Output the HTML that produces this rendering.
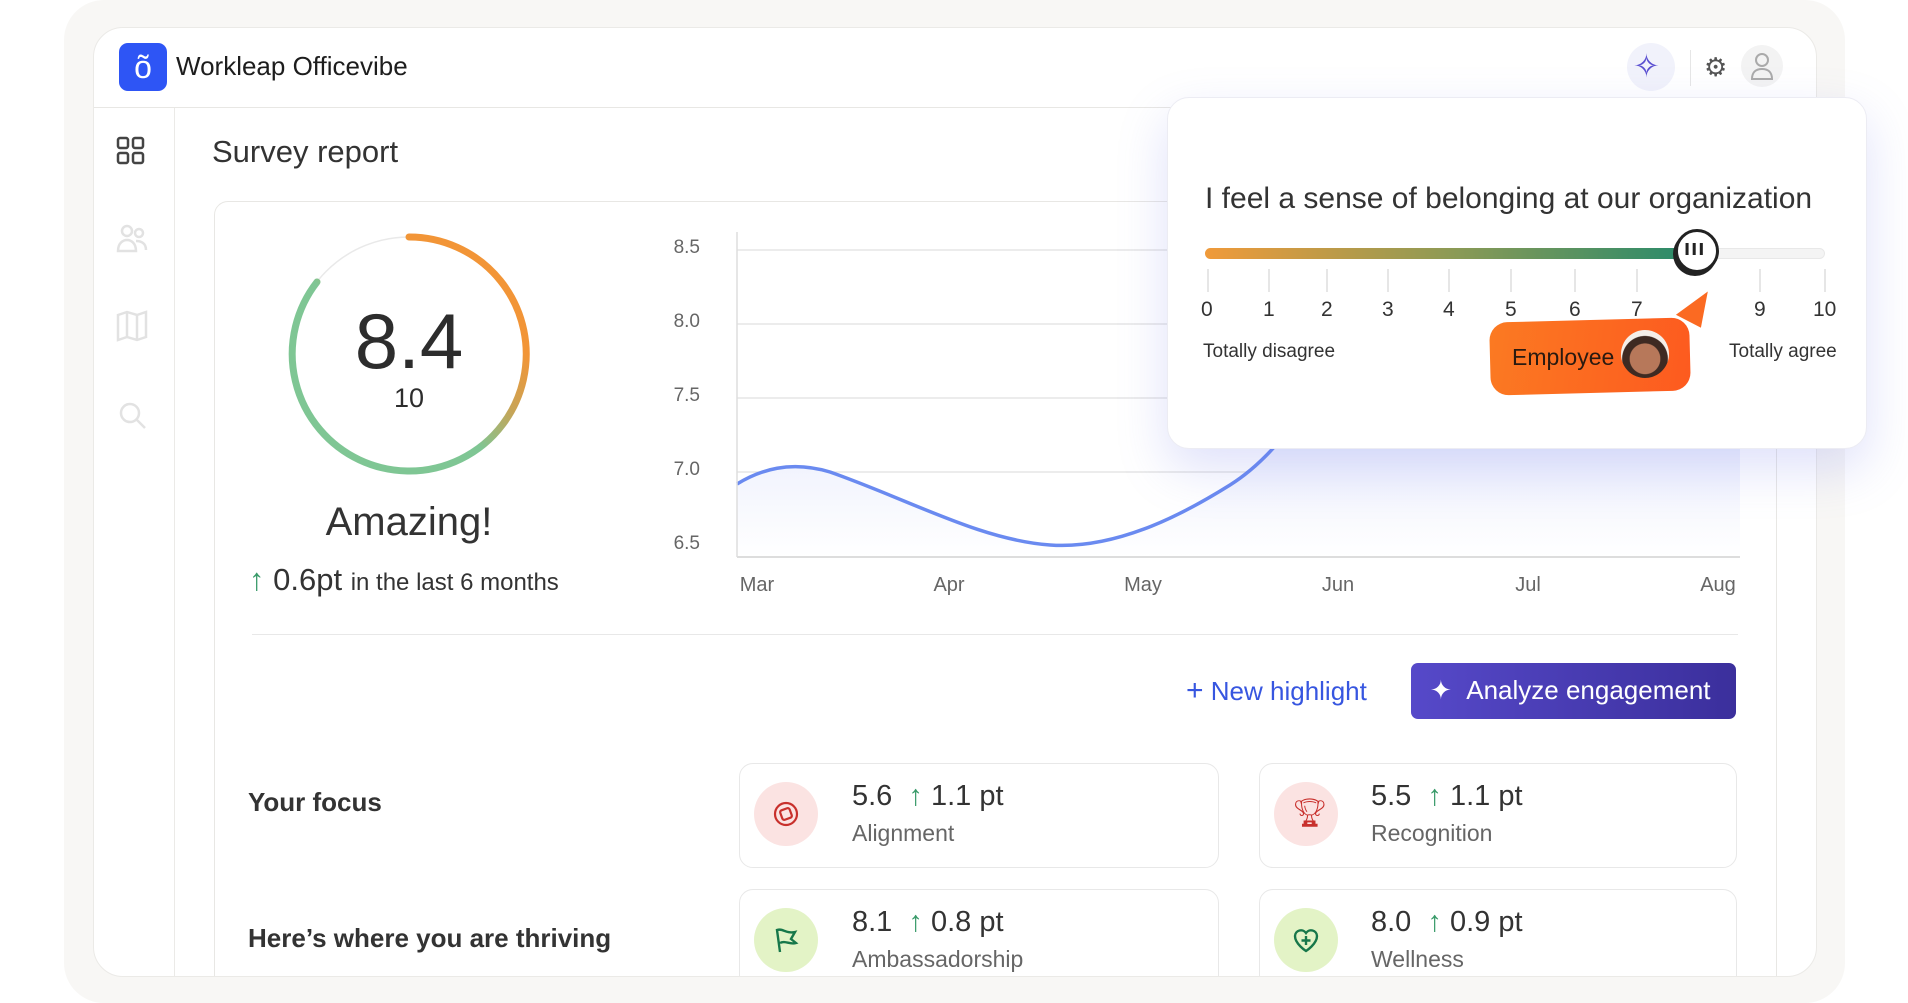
<!DOCTYPE html>
<html><head><meta charset="utf-8"><style>
*{margin:0;padding:0;box-sizing:border-box}
body{width:1908px;height:1003px;background:#fff;font-family:"Liberation Sans",sans-serif;position:relative;overflow:hidden;color:#2b2b2b}
.a{position:absolute}
.t{position:absolute;white-space:nowrap}
</style></head><body>
<div class="a" style="left:64px;top:0;width:1781px;height:1003px;background:#f8f7f5;border-radius:40px"></div>
<div class="a" style="left:93px;top:27px;width:1724px;height:950px;background:#fff;border:1px solid #ebeae7;border-radius:30px;overflow:hidden">
  <div class="a" style="left:0;top:79px;width:100%;height:1px;background:#e8e7e4"></div>
  <div class="a" style="left:80px;top:80px;width:1px;height:900px;background:#ebeae7"></div>
  <!-- main card -->
  <div class="a" style="left:120px;top:173px;width:1563px;height:800px;border:1px solid #e8e7e4;border-radius:14px"></div>
  <!-- cards -->
  <div class="a" style="left:645px;top:735px;width:480px;height:105px;border:1.5px solid #e8e8e8;border-radius:14px"></div>
  <div class="a" style="left:1165px;top:735px;width:478px;height:105px;border:1.5px solid #e8e8e8;border-radius:14px"></div>
  <div class="a" style="left:645px;top:861px;width:480px;height:140px;border:1.5px solid #e8e8e8;border-radius:14px"></div>
  <div class="a" style="left:1165px;top:861px;width:478px;height:140px;border:1.5px solid #e8e8e8;border-radius:14px"></div>
</div>
<!-- logo -->
<div class="a" style="left:119px;top:43px;width:48px;height:48px;background:#2e55f5;border-radius:9px"></div>
<div class="t" style="left:130px;top:43px;width:26px;font-size:32px;color:#fff;text-align:center;line-height:48px">õ</div>
<div class="t" style="left:176px;top:51px;font-size:26px;color:#1d1d1d">Workleap Officevibe</div>
<!-- sidebar icons -->
<svg class="a" style="left:116px;top:136px" width="30" height="30" viewBox="0 0 30 30" fill="none" stroke="#444" stroke-width="2.5"><rect x="2" y="2" width="10" height="10" rx="2"/><rect x="17" y="2" width="10" height="10" rx="2"/><rect x="2" y="17" width="10" height="10" rx="2"/><rect x="17" y="17" width="10" height="10" rx="2"/></svg>
<svg class="a" style="left:116px;top:223px" width="32" height="30" fill="none" stroke="#e2e2e2" stroke-width="2.5"><circle cx="11" cy="8" r="5"/><circle cx="23" cy="10" r="4"/><path d="M2 28c0-8 5-11 9-11s9 3 9 11zM20 18c5 0 10 2 10 9"/></svg>
<svg class="a" style="left:116px;top:310px" width="32" height="32" fill="none" stroke="#e2e2e2" stroke-width="2.5"><path d="M2 5l9-3 10 3 9-3v25l-9 3-10-3-9 3zM11 2v25M21 5v25"/></svg>
<svg class="a" style="left:118px;top:401px" width="30" height="30" fill="none" stroke="#e2e2e2" stroke-width="2.5"><circle cx="12" cy="12" r="9"/><path d="M19 19l8 8"/></svg>
<!-- top right icons -->
<div class="a" style="left:1627px;top:43px;width:48px;height:48px;border-radius:50%;background:#f1f2fb"></div>
<div class="t" style="left:1633px;top:47px;font-size:32px;color:#5a4fd1">✧</div>
<div class="a" style="left:1690px;top:50px;width:1px;height:36px;background:#e6e6e6"></div>
<div class="t" style="left:1704px;top:52px;font-size:26px;color:#555">⚙</div>
<div class="a" style="left:1741px;top:45px;width:42px;height:42px;border-radius:50%;background:#f3f3f3"></div>
<svg class="a" style="left:1750px;top:52px" width="24" height="28" fill="none" stroke="#aaa" stroke-width="2"><circle cx="12" cy="8" r="6"/><path d="M2 27c0-7 4-10 10-10s10 3 10 10z"/></svg>
<div class="t" style="left:212px;top:134px;font-size:31px;color:#333">Survey report</div>
<!-- gauge -->
<svg class="a" style="left:281px;top:226px" width="256" height="256">
<defs><linearGradient id="g1" x1="0" y1="1" x2="1" y2="0"><stop offset="0" stop-color="#7fc694"/><stop offset="0.45" stop-color="#7fc694"/><stop offset="0.6" stop-color="#c8a456"/><stop offset="0.75" stop-color="#f29537"/><stop offset="1" stop-color="#f29537"/></linearGradient></defs>
<circle cx="128" cy="128" r="117" fill="none" stroke="#e9e9e9" stroke-width="1.5"/>
<path d="M128 11 A117 117 0 1 1 36 56" fill="none" stroke="url(#g1)" stroke-width="7" stroke-linecap="round"/>
</svg>
<div class="t" style="left:309px;top:296px;width:200px;text-align:center;font-size:78px;color:#2d2d2d;line-height:90px">8.4</div>
<div class="t" style="left:309px;top:383px;width:200px;text-align:center;font-size:27px;color:#2d2d2d">10</div>
<div class="t" style="left:259px;top:500px;width:300px;text-align:center;font-size:40px;color:#333">Amazing!</div>
<div class="t" style="left:249px;top:562px;font-size:31px;color:#333"><span style="color:#3a9b6a">↑</span> 0.6pt <span style="font-size:24px">in the last 6 months</span></div>
<!-- chart -->
<svg class="a" style="left:650px;top:220px" width="1100" height="400">
<defs><linearGradient id="fl" x1="0" y1="0" x2="0" y2="1"><stop offset="0" stop-color="#dfe4fb"/><stop offset="1" stop-color="#fff"/></linearGradient></defs>
<g stroke="#e5e5e5" stroke-width="1.5"><line x1="87" y1="30" x2="1090" y2="30"/><line x1="87" y1="104" x2="1090" y2="104"/><line x1="87" y1="178" x2="1090" y2="178"/><line x1="87" y1="252" x2="1090" y2="252"/><line x1="87" y1="326" x2="1090" y2="326"/></g>
<path d="M87 264 C110 250 140 240 180 252 C260 280 330 320 400 325 C470 330 540 290 580 265 C620 240 650 200 700 120 L1090 120 L1090 337 L87 337Z" fill="url(#fl)"/>
<path d="M87 264 C110 250 140 240 180 252 C260 280 330 320 400 325 C470 330 540 290 580 265 C620 240 650 200 700 120" fill="none" stroke="#6a8af0" stroke-width="3.5"/>
<line x1="87" y1="12" x2="87" y2="337" stroke="#ddd" stroke-width="1.5"/>
<line x1="87" y1="337" x2="1090" y2="337" stroke="#ddd" stroke-width="2"/>
<g font-family="Liberation Sans" font-size="19" fill="#666" text-anchor="end"><text x="50" y="33">8.5</text><text x="50" y="107">8.0</text><text x="50" y="181">7.5</text><text x="50" y="255">7.0</text><text x="50" y="329">6.5</text></g>
<g font-family="Liberation Sans" font-size="20" fill="#666" text-anchor="middle"><text x="107" y="371">Mar</text><text x="299" y="371">Apr</text><text x="493" y="371">May</text><text x="688" y="371">Jun</text><text x="878" y="371">Jul</text><text x="1068" y="371">Aug</text></g>
</svg>
<div class="a" style="left:252px;top:634px;width:1486px;height:1px;background:#e8e8e8"></div>
<div class="t" style="left:1186px;top:674px;font-size:26px;color:#3756e0"><span style="font-size:30px">+</span> New highlight</div>
<div class="a" style="left:1411px;top:663px;width:325px;height:56px;border-radius:7px;background:linear-gradient(90deg,#5649c9,#3b2f9c)"></div>
<div class="t" style="left:1430px;top:675px;font-size:26px;color:#fff">✦ &nbsp;Analyze engagement</div>
<div class="t" style="left:248px;top:787px;font-size:26px;font-weight:bold;color:#333">Your focus</div>
<div class="t" style="left:248px;top:923px;font-size:26px;font-weight:bold;color:#333">Here’s where you are thriving</div>
<div class="a" style="left:754px;top:782px;width:64px;height:64px;border-radius:50%;background:#fbe3e2"></div>
<div class="a" style="left:1274px;top:782px;width:64px;height:64px;border-radius:50%;background:#fbe3e2"></div>
<div class="a" style="left:754px;top:908px;width:64px;height:64px;border-radius:50%;background:#e3f3c6"></div>
<div class="a" style="left:1274px;top:908px;width:64px;height:64px;border-radius:50%;background:#e3f3c6"></div>
<svg class="a" style="left:772px;top:800px" width="28" height="28" fill="none" stroke="#c8302c" stroke-width="2.2"><circle cx="14" cy="14" r="11"/><rect x="9" y="9" width="10" height="10" rx="2" transform="rotate(-20 14 14)"/></svg>
<div class="t" style="left:1292px;top:796px;font-size:28px;color:#c8302c">🏆︎</div>
<svg class="a" style="left:774px;top:926px" width="28" height="28" fill="none" stroke="#17774a" stroke-width="2.4"><path d="M6 26L3 4c6-2 9 4 18 2l-4 7 5 4c-6 2-11-3-16 0"/></svg>
<svg class="a" style="left:1292px;top:926px" width="28" height="28" fill="none" stroke="#17774a" stroke-width="2.4"><path d="M14 25S3 18 3 10a6 6 0 0 1 11-3 6 6 0 0 1 11 3c0 8-11 15-11 15zM14 10v9M9.5 14.5h9"/></svg>
<div class="t" style="left:852px;top:780px;font-size:29px;color:#333">5.6 &nbsp;<span style="color:#3a9b6a">↑</span> 1.1 pt</div>
<div class="t" style="left:852px;top:820px;font-size:23px;color:#666">Alignment</div>
<div class="t" style="left:1371px;top:780px;font-size:29px;color:#333">5.5 &nbsp;<span style="color:#3a9b6a">↑</span> 1.1 pt</div>
<div class="t" style="left:1371px;top:820px;font-size:23px;color:#666">Recognition</div>
<div class="t" style="left:852px;top:906px;font-size:29px;color:#333">8.1 &nbsp;<span style="color:#3a9b6a">↑</span> 0.8 pt</div>
<div class="t" style="left:852px;top:946px;font-size:23px;color:#666">Ambassadorship</div>
<div class="t" style="left:1371px;top:906px;font-size:29px;color:#333">8.0 &nbsp;<span style="color:#3a9b6a">↑</span> 0.9 pt</div>
<div class="t" style="left:1371px;top:946px;font-size:23px;color:#666">Wellness</div>
<!-- popup -->
<div class="a" style="left:1167px;top:97px;width:700px;height:352px;background:#fff;border:1px solid #ececf3;border-radius:22px;box-shadow:0 20px 50px rgba(110,120,230,0.22)"></div>
<div class="t" style="left:1205px;top:182px;font-size:30px;color:#333">I feel a sense of belonging at our organization</div>
<div class="a" style="left:1205px;top:248px;width:620px;height:11px;border-radius:6px;background:#f4f4f4;border:1px solid #e8e8e8"></div>
<div class="a" style="left:1205px;top:248px;width:495px;height:11px;border-radius:6px;background:linear-gradient(90deg,#f09a3a,#8c9a55,#248a6c)"></div>
<svg class="a" style="left:1195px;top:267px" width="650" height="30" stroke="#ddd" stroke-width="1.5"><line x1="13" y1="2" x2="13" y2="25"/><line x1="74" y1="2" x2="74" y2="25"/><line x1="132" y1="2" x2="132" y2="25"/><line x1="193" y1="2" x2="193" y2="25"/><line x1="254" y1="2" x2="254" y2="25"/><line x1="316" y1="2" x2="316" y2="25"/><line x1="380" y1="2" x2="380" y2="25"/><line x1="442" y1="2" x2="442" y2="25"/><line x1="565" y1="2" x2="565" y2="25"/><line x1="630" y1="2" x2="630" y2="25"/></svg>
<div class="a" style="left:1675px;top:229px;width:44px;height:44px;border-radius:50%;background:#fff;border:3px solid #222;box-shadow:-2px 3px 0 #222"></div>
<div class="t" style="left:1684px;top:235px;font-size:22px;font-weight:bold;color:#222;letter-spacing:1px">ııı</div>
<div class="t" style="left:1201px;top:298px;font-size:21px;color:#333">0</div>
<div class="t" style="left:1263px;top:298px;font-size:21px;color:#333">1</div>
<div class="t" style="left:1321px;top:298px;font-size:21px;color:#333">2</div>
<div class="t" style="left:1382px;top:298px;font-size:21px;color:#333">3</div>
<div class="t" style="left:1443px;top:298px;font-size:21px;color:#333">4</div>
<div class="t" style="left:1505px;top:298px;font-size:21px;color:#333">5</div>
<div class="t" style="left:1569px;top:298px;font-size:21px;color:#333">6</div>
<div class="t" style="left:1631px;top:298px;font-size:21px;color:#333">7</div>
<div class="t" style="left:1754px;top:298px;font-size:21px;color:#333">9</div>
<div class="t" style="left:1813px;top:298px;font-size:21px;color:#333">10</div>
<div class="t" style="left:1203px;top:341px;font-size:19px;color:#333">Totally disagree</div>
<div class="t" style="left:1729px;top:341px;font-size:19px;color:#333">Totally agree</div>
<svg class="a" style="left:1670px;top:285px" width="45" height="50"><path d="M3 30L40 3 32 45z" fill="#fb6a22" stroke="#fff" stroke-width="3" stroke-linejoin="round"/></svg>
<div class="a" style="left:1490px;top:320px;width:200px;height:73px;border-radius:18px;background:linear-gradient(100deg,#fb7a22,#fd5a1f);transform:rotate(-1.5deg)"></div>
<div class="t" style="left:1512px;top:344px;font-size:23px;color:#2a1a10">Employee</div>
<div class="a" style="left:1621px;top:330px;width:48px;height:48px;border-radius:50%;background:radial-gradient(circle at 50% 60%,#b7785a 0 40%,#3e2a22 42% 60%,#f5efe9 62%)"></div>
</body></html>
